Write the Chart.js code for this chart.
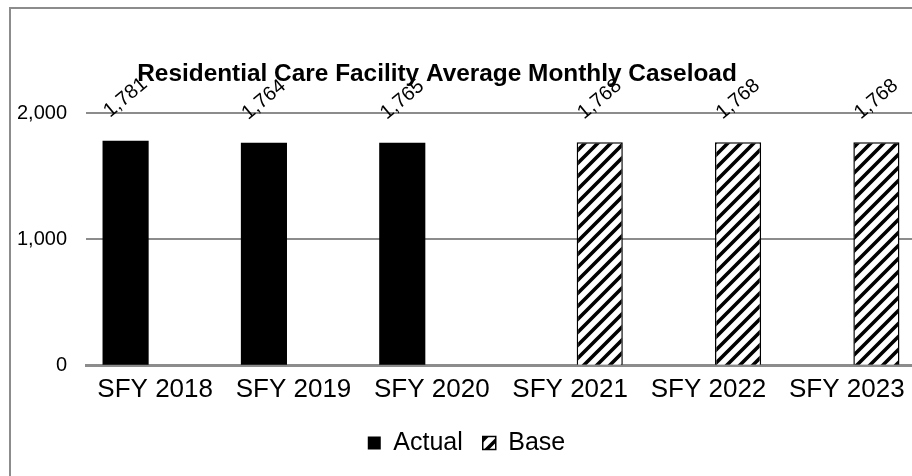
<!DOCTYPE html>
<html>
<head>
<meta charset="utf-8">
<script src="https://cdn.jsdelivr.net/npm/chart.js@4.4.1/dist/chart.umd.min.js"></script>
<style>
  html, body { margin: 0; padding: 0; background: #fff; overflow: hidden; }
  body { width: 912px; height: 476px; position: relative; }
  #frame { position: absolute; left: 9px; top: 7px; width: 1000px; height: 1000px; border: 2px solid #8c8c8c; box-sizing: border-box; }
  #wrap { position: absolute; left: 0; top: 0; width: 916px; height: 476px; }
</style>
</head>
<body>
<div id="frame"></div>
<div id="wrap"><canvas id="caseChart"></canvas></div>
<script>
// chart data
const categories = ['SFY 2018', 'SFY 2019', 'SFY 2020', 'SFY 2021', 'SFY 2022', 'SFY 2023'];
const actualValues = [1781, 1764, 1765, null, null, null];
const baseValues = [null, null, null, 1768, 1768, 1768];
const yTicks = [0, 1000, 2000];
const chartTitle = 'Residential Care Facility Average Monthly Caseload';

// diagonal hatch like Excel's "wide upward diagonal"
function makeHatch() {
    const s = 13;
    const c = document.createElement('canvas');
    c.width = s; c.height = s;
    const g = c.getContext('2d');
    g.fillStyle = '#fff';
    g.fillRect(0, 0, s, s);
    g.strokeStyle = '#000';
    g.lineWidth = 3.6;
    g.beginPath();
    g.moveTo(0, s); g.lineTo(s, 0);
    g.moveTo(-s / 2, s / 2); g.lineTo(s / 2, -s / 2);
    g.moveTo(s / 2, s * 1.5); g.lineTo(s * 1.5, s / 2);
    g.stroke();
    return g.createPattern(c, 'repeat');
}

const fmt = v => Number(v).toLocaleString('en-US');

// rotated value labels above each bar
const valueLabels = {
    id: 'valueLabels',
    afterDatasetsDraw(chart) {
        const ctx = chart.ctx;
        ctx.save();
        ctx.font = '20px "Liberation Sans", Arial, sans-serif';
        ctx.fillStyle = '#000';
        ctx.textAlign = 'center';
        ctx.textBaseline = 'middle';
        chart.data.datasets.forEach((ds, i) => {
            const meta = chart.getDatasetMeta(i);
            meta.data.forEach((bar, j) => {
                const v = ds.data[j];
                if (v == null) return;
                ctx.save();
                ctx.translate(bar.x, bar.y - 43);
                ctx.rotate(-40 * Math.PI / 180);
                ctx.fillText(fmt(v), 0, 0);
                ctx.restore();
            });
        });
        ctx.restore();
    }
};

const titleText = {
    id: 'titleText',
    afterDraw(chart) {
        const ctx = chart.ctx;
        ctx.save();
        ctx.font = 'bold 24.4px "Liberation Sans", Arial, sans-serif';
        ctx.fillStyle = '#000';
        ctx.textAlign = 'center';
        ctx.textBaseline = 'middle';
        ctx.fillText(chartTitle, 437, 74);
        ctx.restore();
    }
};

const hatch = makeHatch();
const ctx = document.getElementById('caseChart').getContext('2d');
const caseChart = new Chart(ctx, {
    type: 'bar',
    data: {
        labels: categories,
        datasets: [{
            label: 'Actual',
            data: actualValues,
            backgroundColor: '#000',
            borderWidth: 0
        }, {
            label: 'Base',
            data: baseValues,
            backgroundColor: hatch,
            borderColor: '#000',
            borderWidth: 1.5
        }]
    },
    options: {
        responsive: true,
        maintainAspectRatio: false,
        animation: false,
        devicePixelRatio: 1,
        categoryPercentage: 0.855,
        barPercentage: 0.78,
        layout: { padding: { left: 17, right: 0, top: 113, bottom: 10.5 } },
        plugins: {
            title: { display: false },
            tooltip: { enabled: false },
            legend: {
                position: 'bottom',
                labels: {
                    font: { family: '"Liberation Sans", Arial, sans-serif', size: 25 },
                    color: '#000',
                    boxWidth: 13,
                    boxHeight: 13,
                    padding: 20
                }
            }
        },
        scales: {
            x: {
                grid: { display: false },
                border: { display: true, color: '#8c8c8c', width: 3 },
                afterFit: axis => { axis.height += 5.5; },
                ticks: {
                    font: { family: '"Liberation Sans", Arial, sans-serif', size: 26 },
                    color: '#000',
                    padding: 0,
                    maxRotation: 0,
                    autoSkip: false
                }
            },
            y: {
                min: 0,
                max: 2000,
                afterBuildTicks: axis => { axis.ticks = yTicks.map(v => ({ value: v })); },
                afterFit: axis => { axis.width = 69; },
                grid: { color: '#8c8c8c', lineWidth: 2, drawTicks: false },
                border: { display: false },
                ticks: {
                    font: { family: '"Liberation Sans", Arial, sans-serif', size: 20 },
                    color: '#000',
                    padding: 19,
                    callback: v => fmt(v)
                }
            }
        }
    },
    plugins: [valueLabels, titleText]
});
</script>
</body>
</html>
